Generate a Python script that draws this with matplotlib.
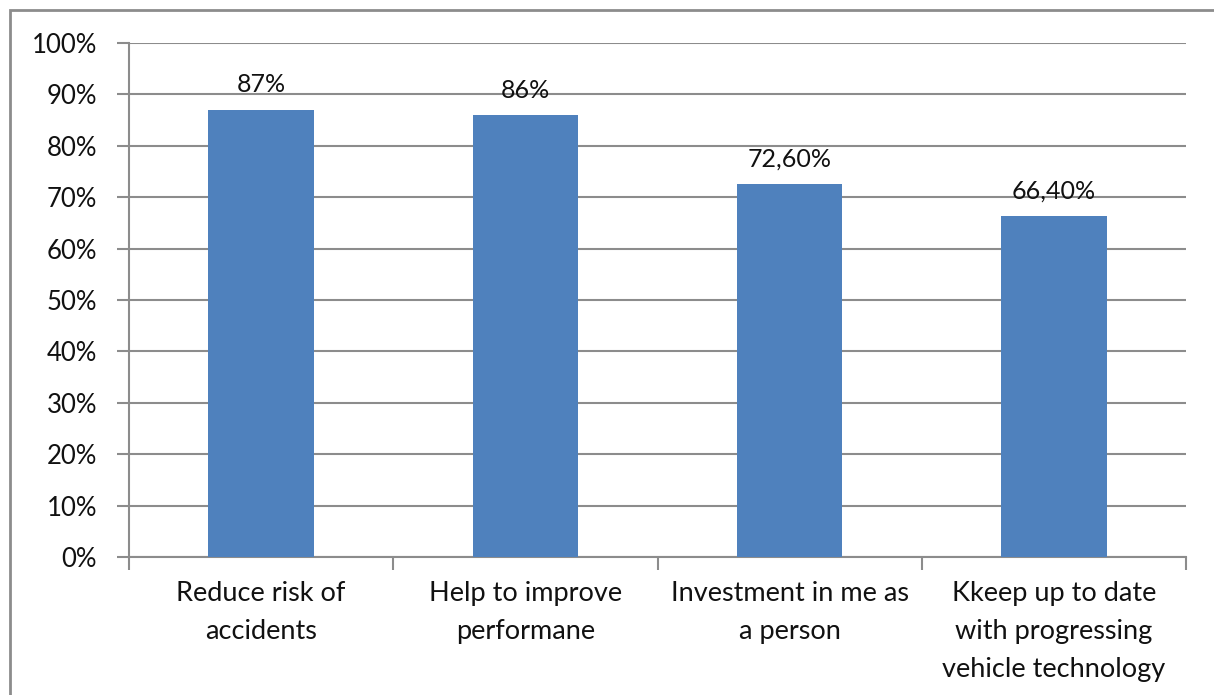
import matplotlib.pyplot as plt
from matplotlib.patches import Rectangle
from matplotlib.ticker import FuncFormatter

plt.rcParams['font.family'] = ['Lato', 'DejaVu Sans']

categories = ['Reduce risk of\naccidents', 'Help to improve\nperformane',
              'Investment in me as\na person',
              'Kkeep up to date\nwith progressing\nvehicle technology']
values = [87, 86, 72.6, 66.4]
value_labels = ['87%', '86%', '72,60%', '66,40%']

fig = plt.figure(figsize=(12.14, 6.95), dpi=100)
ax = fig.add_axes([129 / 1214, 1 - 557 / 695, (1186 - 129) / 1214, (557 - 43) / 695])

grid_col = '#8c8c8c'
txt_col = '#111111'
x = range(len(values))
bars = ax.bar(x, values, width=0.4, color='#4f81bd', zorder=3)
for b, lab in zip(bars, value_labels):
    ax.text(b.get_x() + b.get_width() / 2, b.get_height() + 2.6, lab,
            ha='center', va='bottom', fontsize=18, color=txt_col)

ax.set_ylim(0, 100)
ax.set_xlim(-0.5, len(values) - 0.5)
ax.set_yticks(range(0, 101, 10))
ax.yaxis.set_major_formatter(FuncFormatter(lambda v, p: f'{v:.0f}%'))
ax.yaxis.grid(True, color=grid_col, linewidth=1.5, zorder=0)

# category labels sit between the boundary ticks
ax.set_xticks([i - 0.5 for i in range(len(values) + 1)])
ax.set_xticklabels([])
ax.set_xticks(list(x), minor=True)
ax.set_xticklabels(categories, minor=True, fontsize=19.5, color=txt_col, linespacing=1.65)
ax.tick_params(axis='x', which='minor', length=0, pad=17)
ax.tick_params(axis='x', which='major', length=9, width=1.5, color=grid_col, direction='out')
ax.tick_params(axis='y', length=9, width=1.5, color=grid_col, labelsize=18.5, pad=14,
               labelcolor=txt_col)

for side in ['top', 'right']:
    ax.spines[side].set_visible(False)
for side in ['left', 'bottom']:
    ax.spines[side].set_color(grid_col)
    ax.spines[side].set_linewidth(1.5)

# outer frame of the chart
fig.patches.append(Rectangle((10 / 1214, -0.1), 1.2, 1 - 10 / 695 + 0.1,
                             transform=fig.transFigure, fill=False,
                             edgecolor=grid_col, linewidth=2))

fig.savefig('out.png', dpi=100)
